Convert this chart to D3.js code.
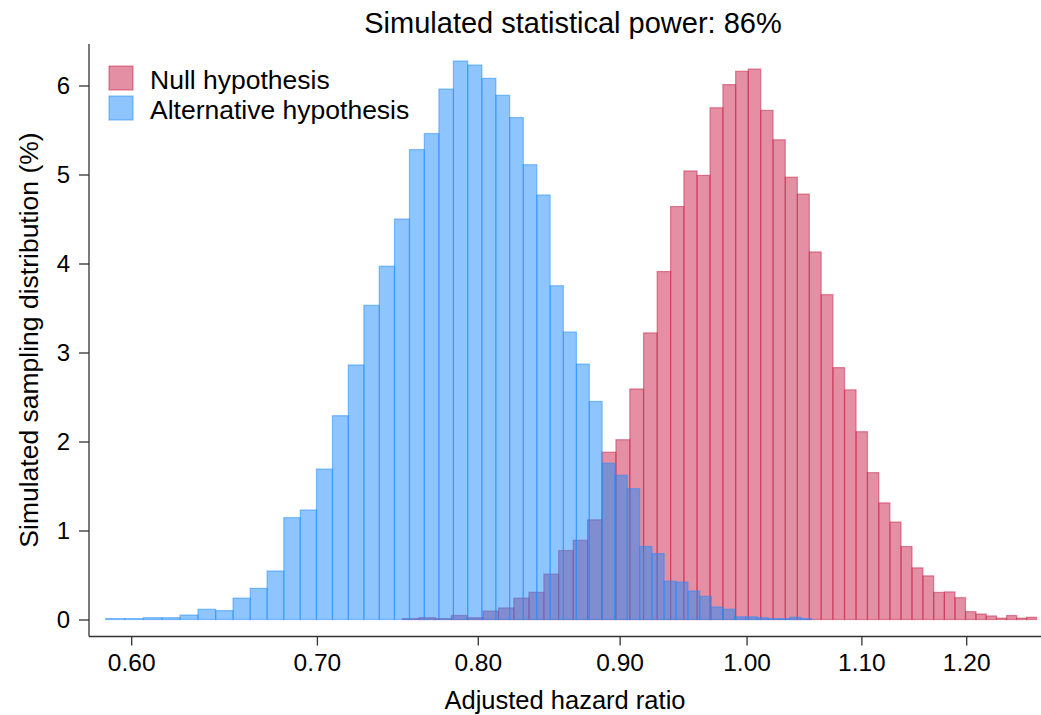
<!DOCTYPE html>
<html>
<head>
<meta charset="utf-8">
<script src="https://cdn.jsdelivr.net/npm/d3@7/dist/d3.min.js"></script>
<style>
  html, body { margin: 0; padding: 0; background: #fff; }
  svg { display: block; font-family: "Liberation Sans", Arial, Helvetica, sans-serif; }
</style>
</head>
<body>
<svg id="chart" width="1041" height="715"></svg>
<script>
// ---- Data ----
const titleText = "Simulated statistical power: 86%";
const seriesNames = ["Null hypothesis", "Alternative hypothesis"];

// Null hypothesis histogram: 50 bins of hazard ratio
const nullBinStart = 0.7514;
const nullBinWidth = 0.010416;
const nullValues = [
  0.01, 0.02, 0.01, 0.045, 0.02, 0.095, 0.13, 0.24, 0.305, 0.51,
  0.775, 0.89, 1.12, 1.88, 2.02, 2.59, 3.22, 3.91, 4.64, 5.04,
  4.99, 5.75, 6.01, 6.16, 6.185, 5.72, 5.39, 4.97, 4.78, 4.13,
  3.65, 2.83, 2.58, 2.11, 1.65, 1.31, 1.095, 0.82, 0.58, 0.49,
  0.305, 0.31, 0.245, 0.088, 0.062, 0.04, 0.015, 0.045, 0.015, 0.025
];

// Alternative hypothesis histogram: 50 bins of hazard ratio
const altBinStart = 0.5874;
const altBinWidth = 0.009362;
const altValues = [
  0.01, 0.01, 0.02, 0.02, 0.05, 0.115, 0.10, 0.24, 0.35, 0.545,
  1.144, 1.23, 1.69, 2.29, 2.86, 3.53, 3.97, 4.50, 5.28, 5.46,
  5.96, 6.275, 6.23, 6.08, 5.89, 5.64, 5.11, 4.77, 3.75, 3.23,
  2.87, 2.45, 1.755, 1.62, 1.47, 0.82, 0.74, 0.43, 0.42, 0.32,
  0.26, 0.14, 0.115, 0.03, 0.03, 0.02, 0.01, 0.01, 0.025, 0.01
];

const xTicks = [0.60, 0.70, 0.80, 0.90, 1.00, 1.10, 1.20];
const yTicks = [0, 1, 2, 3, 4, 5, 6];
const xTitle = "Adjusted hazard ratio";
const yTitle = "Simulated sampling distribution (%)";

// ---- Styles ----
const nullColor = "rgb(201,31,71)";
const altColor = "rgb(29,139,255)";
const fontFamily = '"Liberation Sans", Arial, Helvetica, sans-serif';

const svg = d3.select("#chart");

const plotLeft = 89, plotRight = 1041, plotTop = 44, plotBottom = 636.5;

const x = d3.scaleLog().domain([0.6, 1.2]).range([131.2, 966.2]);
const y = d3.scaleLinear().domain([0, 6]).range([619.5, 85.5]);

function bins(start, width, values) {
  return values.map((v, i) => ({ x0: start + i * width, x1: start + (i + 1) * width, v }));
}

const series = [
  { name: seriesNames[0], color: nullColor, data: bins(nullBinStart, nullBinWidth, nullValues) },
  { name: seriesNames[1], color: altColor, data: bins(altBinStart, altBinWidth, altValues) }
];

series.forEach(s => {
  svg.append("g")
    .selectAll("rect")
    .data(s.data)
    .join("rect")
    .attr("x", d => x(d.x0))
    .attr("width", d => x(d.x1) - x(d.x0))
    .attr("y", d => y(d.v))
    .attr("height", d => y(0) - y(d.v))
    .attr("fill", s.color)
    .attr("fill-opacity", 0.5)
    .attr("stroke", s.color)
    .attr("stroke-opacity", 0.5)
    .attr("stroke-width", 1.2);
});

// Axes
const xAxis = d3.axisBottom(x)
  .tickValues(xTicks)
  .tickFormat(d3.format(".2f"))
  .tickSize(9)
  .tickPadding(8);
const gx = svg.append("g").attr("transform", `translate(0,${plotBottom})`).call(xAxis);
gx.select(".domain").remove();
gx.selectAll(".tick line").attr("stroke", "#333").attr("stroke-width", 1.3);
gx.selectAll(".tick text")
  .attr("font-family", fontFamily)
  .attr("font-size", 24.5)
  .attr("fill", "#000");

const yAxis = d3.axisLeft(y)
  .tickValues(yTicks)
  .tickFormat(d3.format("d"))
  .tickSize(10)
  .tickPadding(9);
const gy = svg.append("g").attr("transform", `translate(${plotLeft},0)`).call(yAxis);
gy.select(".domain").remove();
gy.selectAll(".tick line").attr("stroke", "#333").attr("stroke-width", 1.3);
gy.selectAll(".tick text")
  .attr("font-family", fontFamily)
  .attr("font-size", 24)
  .attr("fill", "#000");

// Axis lines
svg.append("line")
  .attr("x1", plotLeft).attr("x2", plotRight)
  .attr("y1", plotBottom).attr("y2", plotBottom)
  .attr("stroke", "#333").attr("stroke-width", 1.3);
svg.append("line")
  .attr("x1", plotLeft).attr("x2", plotLeft)
  .attr("y1", plotTop).attr("y2", plotBottom)
  .attr("stroke", "#333").attr("stroke-width", 1.3);

// Titles
svg.append("text")
  .attr("x", 573).attr("y", 33)
  .attr("text-anchor", "middle")
  .attr("font-family", fontFamily)
  .attr("font-size", 29)
  .attr("fill", "#000")
  .text(titleText);

svg.append("text")
  .attr("x", 565).attr("y", 709)
  .attr("text-anchor", "middle")
  .attr("font-family", fontFamily)
  .attr("font-size", 25.5)
  .attr("fill", "#000")
  .text(xTitle);

svg.append("text")
  .attr("transform", `translate(38,${340}) rotate(-90)`)
  .attr("text-anchor", "middle")
  .attr("font-family", fontFamily)
  .attr("font-size", 26.5)
  .attr("fill", "#000")
  .text(yTitle);

// Legend
const legend = svg.append("g");
series.forEach((s, i) => {
  const gy0 = 66 + i * 30;
  legend.append("rect")
    .attr("x", 109).attr("y", gy0)
    .attr("width", 24).attr("height", 24)
    .attr("fill", s.color).attr("fill-opacity", 0.5)
    .attr("stroke", s.color).attr("stroke-opacity", 0.5)
    .attr("stroke-width", 1.2);
  legend.append("text")
    .attr("x", 150).attr("y", gy0 + 22.5)
    .attr("font-family", fontFamily)
    .attr("font-size", 26.5)
    .attr("fill", "#000")
    .text(s.name);
});
</script>
</body>
</html>
